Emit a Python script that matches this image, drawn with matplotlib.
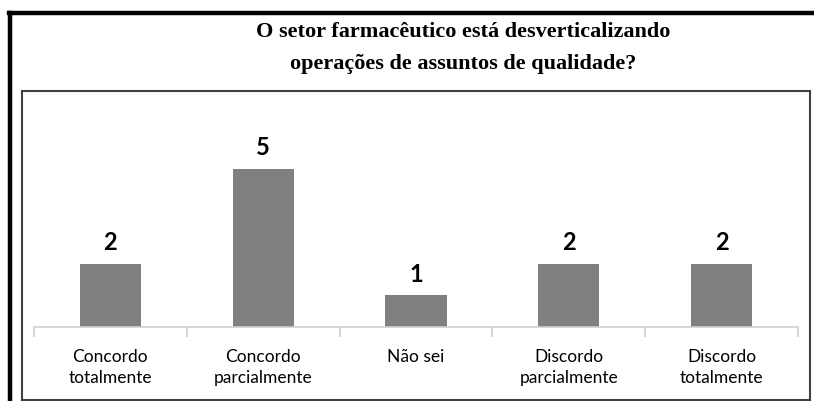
import numpy as np
import matplotlib.pyplot as plt
from matplotlib.lines import Line2D

# chart data
categories = ["Concordo\ntotalmente", "Concordo\nparcialmente", "Não sei",
              "Discordo\nparcialmente", "Discordo\ntotalmente"]
counts = [2, 5, 1, 2, 2]
title = "O setor farmacêutico está desverticalizando\noperações de assuntos de qualidade?"

W, H = 814, 401
fig = plt.figure(figsize=(W / 100, H / 100), dpi=100)
fig.patch.set_facecolor("white")


def px(x0, y0, x1, y1):
    # pixel box (top-left origin) -> figure fraction rect
    return [x0 / W, 1 - y1 / H, (x1 - x0) / W, (y1 - y0) / H]


# outer frame (open to the right and bottom, like a cropped table cell)
fig.add_artist(Line2D([10 / W, 10 / W], [0, 1 - 13 / H], color="black", lw=3.2))
fig.add_artist(Line2D([8.5 / W, 1], [1 - 13 / H, 1 - 13 / H], color="black", lw=3.2))

# inner chart frame
frame = fig.add_axes(px(22, 91, 810, 400))
frame.set_xticks([])
frame.set_yticks([])
for s in frame.spines.values():
    s.set_color("#404040")
    s.set_linewidth(1.5)
frame.patch.set_alpha(0)

fig.text(463 / W, 1 - 48 / H, title, ha="center", va="center",
         family="Liberation Serif", fontweight="bold", fontsize=16,
         linespacing=1.75)

ax = fig.add_axes(px(34, 137.4, 798, 327))
x = np.arange(len(categories))
ax.bar(x, counts, width=0.4, color="#808080")
ax.set_xlim(-0.5, len(categories) - 0.5)
ax.set_ylim(0, 6)

for xi, v in zip(x, counts):
    ax.annotate(str(v), (xi, v), xytext=(0, 7), textcoords="offset points",
                ha="center", va="bottom", family="Lato", fontweight="bold",
                fontsize=17)

for name in ["top", "right", "left"]:
    ax.spines[name].set_visible(False)
ax.spines["bottom"].set_color("#d0d0d0")
ax.spines["bottom"].set_linewidth(1.2)
ax.set_yticks([])
ax.set_xticks(x)
ax.set_xticklabels(categories, family="Lato", fontsize=12.5, linespacing=1.4)
ax.tick_params(axis="x", which="major", length=0, pad=16)
ax.set_xticks(np.arange(-0.5, len(categories)), minor=True)
ax.tick_params(axis="x", which="minor", length=7, color="#d0d0d0", width=1.2)
ax.patch.set_alpha(0)

fig.savefig("out.png", dpi=100)
